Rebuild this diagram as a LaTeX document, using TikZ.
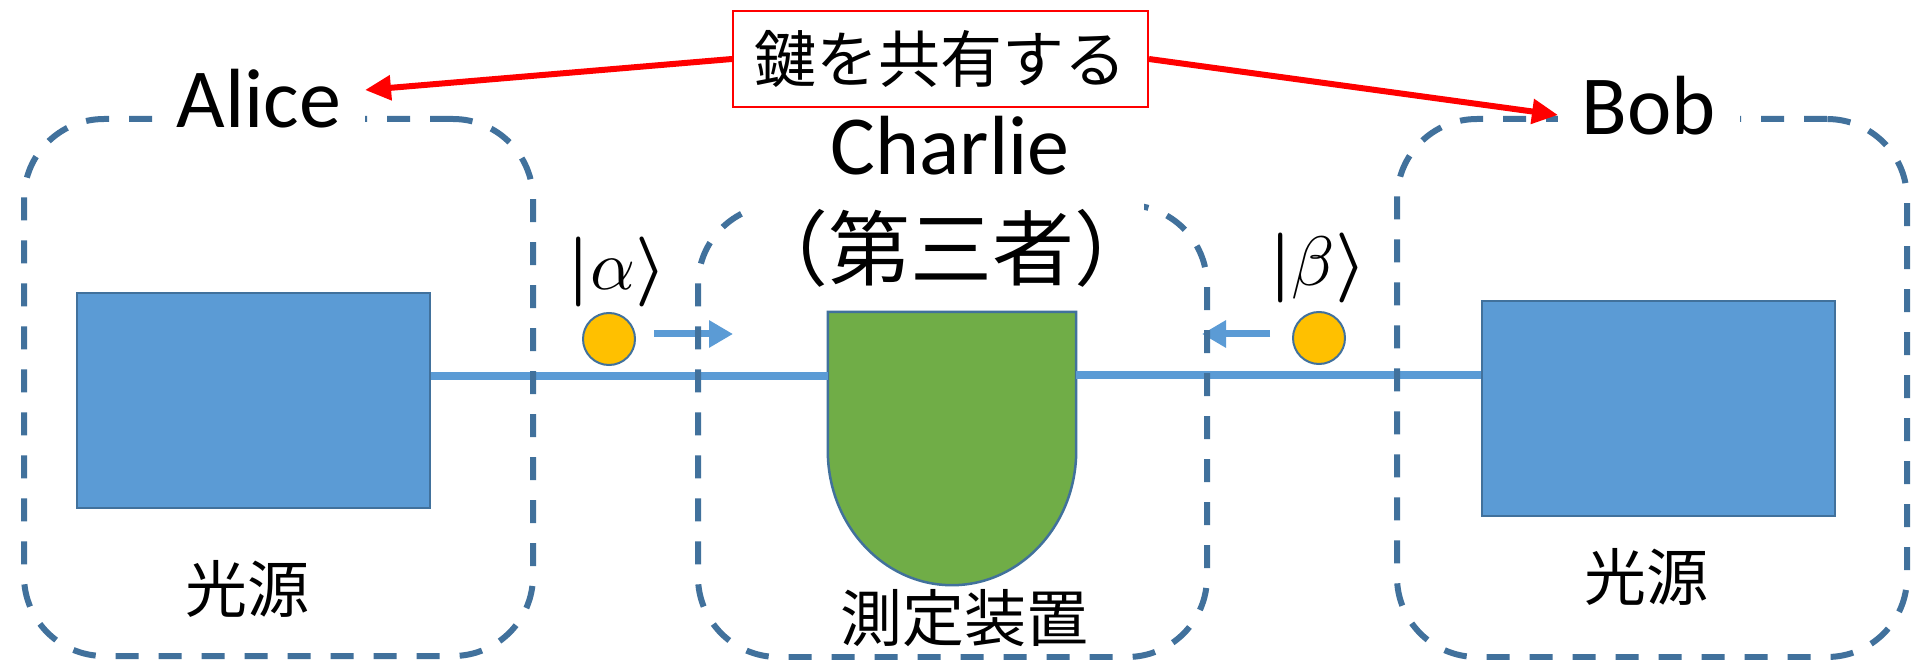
\documentclass[tikz,border=0pt]{standalone}
\usepackage{graphicx}
\usepackage{fontspec}
\setmainfont{Carlito}
\newfontfamily\jp{Noto Sans CJK JP}
\usetikzlibrary{arrows.meta,calc}
\definecolor{dashblue}{HTML}{41719C}
\definecolor{srcblue}{HTML}{5B9BD5}
\definecolor{detgreen}{HTML}{70AD47}
\definecolor{phyellow}{HTML}{FFC000}
\definecolor{keyred}{HTML}{FF0000}
\newcommand{\myket}[1]{{\boldmath$|$}$#1${\boldmath$\rangle$}}
\begin{document}
\begin{tikzpicture}[x=1pt,y=-1pt,
  grp/.style={draw=dashblue, line width=6pt, dash pattern=on 23pt off 20pt,
    rounded corners=80pt, inner sep=0pt},
  srcbox/.style={draw=dashblue, fill=srcblue, line width=2.5pt,
    minimum width=353pt, minimum height=215pt, inner sep=0pt},
  detarea/.style={minimum width=248pt, minimum height=273pt, inner sep=0pt},
  detshape/.style={draw=dashblue, fill=detgreen, line width=2.5pt},
  photon/.style={circle, draw=dashblue, fill=phyellow, line width=2pt,
    minimum size=52pt, inner sep=0pt},
  fiber/.style={draw=srcblue, line width=8pt},
  flow/.style={draw=srcblue, line width=7pt, -{Triangle[length=24pt,width=26pt]}},
  keyarrow/.style={draw=keyred, line width=6pt, -{Triangle[length=26pt,width=24pt]}},
  who/.style={font=\fontsize{84}{90}\selectfont, fill=white, inner ysep=2pt, inner xsep=24pt, anchor=base},
  jplabel/.style={font=\jp\fontsize{62}{70}\selectfont, inner sep=0pt},
  ket/.style={inner sep=0pt}
]
\useasboundingbox (0,0) rectangle (1915,660);
\fill[white] (0,0) rectangle (1915,660);

% light sources and detector
\node[srcbox] (asrc) at (253.5,400.5) {};
\node[srcbox] (bsrc) at (1658.5,408.5) {};
\node[detarea] (det) at (952,448.5) {};
\path[detshape] (det.north west) -- (det.north east) -- ($(det.north east)+(0,139)$)
  .. controls +(0,74) and +(68.5,0) .. (det.south)
  .. controls +(-68.5,0) and +(0,74) .. ($(det.north west)+(0,139)$) -- cycle;

% fibres
\coordinate (ly) at (0,376);
\coordinate (ry) at (0,375);
\draw[fiber] (asrc.east |- ly) -- (det.west |- ly);
\draw[fiber] (det.east |- ry) -- (bsrc.west |- ry);

% photons and their directions
\node[photon] (pa) at (609,339) {};
\node[photon] (pb) at (1319,338) {};
\coordinate (atipflow) at (733,334);
\coordinate (btipflow) at (1202,334);
\draw[flow] (pa.east |- atipflow) ++(18,0) -- (atipflow);
\draw[flow] (pb.west |- btipflow) ++(-22,0) -- (btipflow);
\node[ket] (ka) at (617,272) {\scalebox{7}{\myket{\alpha}}};
\node[ket] (kb) at (1318,268) {\scalebox{7}{\myket{\beta}}};

% dashed party boxes
\node[grp, minimum width=509pt, minimum height=537pt] (alicebox) at (278.5,387.5) {};
\node[grp, minimum width=509pt, minimum height=452pt] (charliebox) at (952.5,431) {};
\node[grp, minimum width=510pt, minimum height=538pt] (bobbox) at (1652,388) {};

% labels
\node[who] (alice) at (259,128) {Alice};
\node[who] (bob) at (1649,135) {Bob};
\node[font=\fontsize{84}{90}\selectfont, inner sep=0pt, anchor=base] (charlie) at (950,175) {Charlie};
\node[font=\jp\fontsize{82}{90}\selectfont, fill=white, inner xsep=-12pt, inner ysep=8pt] (third) at (951,248) {（第三者）};
\node[jplabel] (alabel) at (247,589) {光源};
\node[jplabel] (blabel) at (1646,577) {光源};
\node[jplabel] (dlabel) at (964,618) {測定装置};

% shared key
\node[draw=keyred, line width=2pt, fill=white, minimum width=415pt, minimum height=96pt,
  inner sep=0pt, font=\jp\fontsize{62}{70}\selectfont] (key) at (940.5,59) {鍵を共有する};
\coordinate (atip) at (365,90);
\coordinate (btip) at (1558,115);
\draw[keyarrow] (key.west) -- (atip);
\draw[keyarrow] (key.east) -- (btip);
\end{tikzpicture}
\end{document}
